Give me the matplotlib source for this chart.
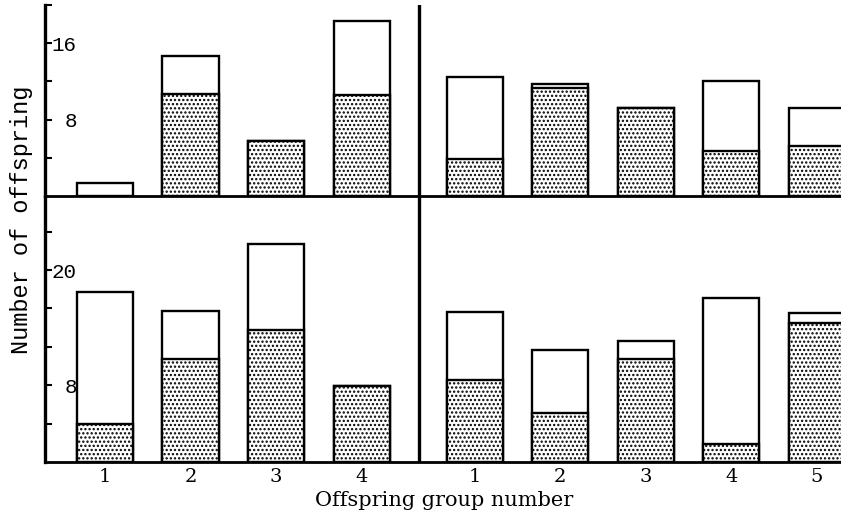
import matplotlib
matplotlib.use("Agg")
from matplotlib import pyplot as plt


# groups: left block (4 groups) and right block (5 groups)
left_groups = ['1', '2', '3', '4']
right_groups = ['1', '2', '3', '4', '5']

# top row: total offspring and stippled part
top_left_total = [1.4, 14.7, 5.8, 18.3]
top_left_stip = [0, 10.7, 5.8, 10.6]
top_right_total = [12.5, 11.7, 9.2, 12.0, 9.2]
top_right_stip = [3.9, 11.3, 9.2, 4.7, 5.2]

# bottom row
bot_left_total = [17.7, 15.7, 22.7, 7.9]
bot_left_stip = [4.0, 10.7, 13.7, 7.9]
bot_right_total = [15.6, 11.7, 12.6, 17.1, 15.5]
bot_right_stip = [8.5, 5.1, 10.7, 1.9, 14.5]

top_ticks = [4, 8, 12, 16, 20]
top_labels = ['', '8', '', '16', '']
bot_ticks = [4, 8, 12, 16, 20, 24]
bot_labels = ['', '8', '', '', '20', '']

plt.rcParams['hatch.linewidth'] = 1.1
plt.rcParams['hatch.color'] = 'black'

W, H = 841, 520
fig = plt.figure(figsize=(W / 100, H / 100), dpi=100)

# pixel layout
x0 = 45
ax_top = fig.add_axes([x0 / W, 1 - 196 / H, 1 - x0 / W, 191 / H])
ax_bot = fig.add_axes([x0 / W, 1 - 462 / H, 1 - x0 / W, 266 / H])

left_x = [i + 1 for i in range(len(left_groups))]
right_x = [i + 5.32 for i in range(len(right_groups))]
divider = 4.67
bw = 0.655


def draw_row(ax, lt, ls, rt, rs, ymax, ticks, labels):
   xs = left_x + right_x
   totals = lt + rt
   stips = ls + rs
   ax.patch.set_visible(False)
   ax.bar(xs, totals, width=bw, color='white', edgecolor='black', linewidth=1.7, zorder=2)
   for x, s in zip(xs, stips):
      if s > 0:
         ax.bar([x], [s], width=bw, color='white', edgecolor='black', linewidth=1.7,
                hatch='....', zorder=3)
   ax.axvline(divider, color='black', linewidth=2.4, zorder=4)
   ax.set_xlim(0.30, 9.60)
   ax.set_ylim(0, ymax)
   ax.set_yticks(ticks)
   ax.set_yticklabels(labels, fontfamily='Liberation Mono', fontsize=15)
   ax.tick_params(axis='y', direction='in', length=5, width=1.5, pad=-23)
   for lab in ax.get_yticklabels():
      lab.set_horizontalalignment('right')
   ax.spines['top'].set_visible(False)
   ax.spines['right'].set_visible(False)
   ax.spines['left'].set_linewidth(2.4)
   ax.spines['bottom'].set_linewidth(2.0)
   ax.spines['bottom'].set_zorder(5)


draw_row(ax_top, top_left_total, top_left_stip, top_right_total, top_right_stip,
         191 / 9.55, top_ticks, top_labels)
draw_row(ax_bot, bot_left_total, bot_left_stip, bot_right_total, bot_right_stip,
         266 / 9.6, bot_ticks, bot_labels)

ax_top.set_xticks([])
ax_bot.set_xticks(left_x + right_x)
ax_bot.set_xticklabels(left_groups + right_groups, fontfamily='DejaVu Serif', fontsize=14)
ax_bot.tick_params(axis='x', length=0, pad=4)

fig.text(22 / W, 1 - 220 / H, 'Number of offspring', rotation=90, ha='center', va='center',
         fontfamily='Liberation Mono', fontsize=17)
fig.text(444 / W, 1 - 501 / H, 'Offspring group number', ha='center', va='center',
         fontfamily='DejaVu Serif', fontsize=15)

fig.savefig('out.png', dpi=100)
